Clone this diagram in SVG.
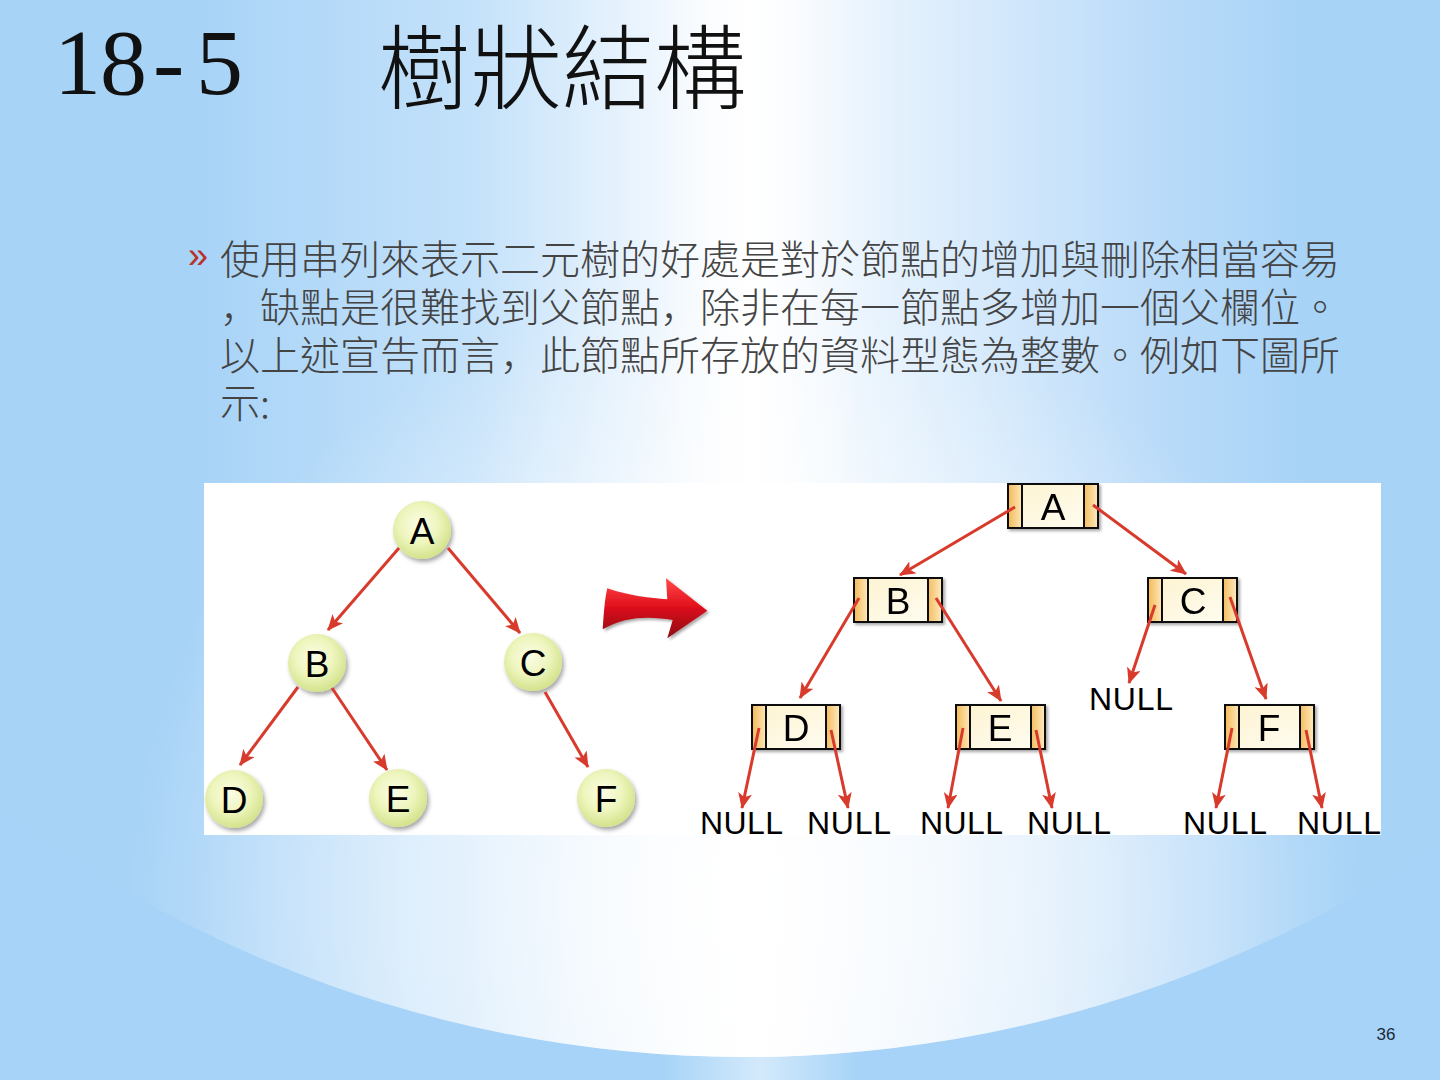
<svg xmlns="http://www.w3.org/2000/svg" width="1440" height="1080" viewBox="0 0 1440 1080">
<defs>
<style>
.ttl{font-family:"Liberation Serif","Noto Sans CJK TC",serif;fill:#111}
.cjk{font-family:"Noto Sans CJK TC",sans-serif;font-weight:300}
.body{font-family:"Noto Sans CJK TC",sans-serif;font-size:40px;fill:#444;font-weight:300}
.cm{font-family:"Noto Sans CJK JP",sans-serif}
.lbl{font-family:"Liberation Sans",Arial,sans-serif;font-size:37px;fill:#000;text-anchor:middle}
.null{font-family:"Liberation Sans",Arial,sans-serif;font-size:32px;fill:#000}
.edge{stroke:#d83a2c;stroke-width:3;fill:none;marker-end:url(#ah)}
.cell{fill:url(#cellG);stroke:#111;stroke-width:2}
.side{fill:url(#sideG)}
.div{stroke:#111;stroke-width:2}
</style>
<linearGradient id="glow" gradientUnits="userSpaceOnUse" x1="190" y1="0" x2="1310" y2="0">
<stop offset="0" stop-color="#a7d3f7"/>
<stop offset="0.25" stop-color="#c3e1fa"/>
<stop offset="0.44" stop-color="#f4f9fe"/>
<stop offset="0.5" stop-color="#ffffff"/>
<stop offset="0.62" stop-color="#e6f2fd"/>
<stop offset="0.85" stop-color="#bcdcf9"/>
<stop offset="1" stop-color="#a7d3f7"/>
</linearGradient>
<radialGradient id="low" gradientUnits="userSpaceOnUse" cx="745" cy="900" r="620">
<stop offset="0" stop-color="#ffffff" stop-opacity="0.9"/>
<stop offset="0.55" stop-color="#ffffff" stop-opacity="0.5"/>
<stop offset="1" stop-color="#ffffff" stop-opacity="0"/>
</radialGradient>
<linearGradient id="band" x1="0" y1="0" x2="1" y2="0">
<stop offset="0" stop-color="#ffffff" stop-opacity="0"/>
<stop offset="0.5" stop-color="#ffffff" stop-opacity="0.85"/>
<stop offset="1" stop-color="#ffffff" stop-opacity="0"/>
</linearGradient>
<radialGradient id="ball" cx="0.45" cy="0.4" r="0.6">
<stop offset="0" stop-color="#fbfde6"/>
<stop offset="0.55" stop-color="#eef5bd"/>
<stop offset="1" stop-color="#d3e38c"/>
</radialGradient>
<linearGradient id="cellG" x1="0" y1="0" x2="1" y2="1">
<stop offset="0" stop-color="#fdf3cf"/>
<stop offset="1" stop-color="#fffdf3"/>
</linearGradient>
<linearGradient id="sideG" x1="0" y1="0" x2="1" y2="0">
<stop offset="0" stop-color="#f4bd5e"/>
<stop offset="1" stop-color="#fde7bb"/>
</linearGradient>
<linearGradient id="redA" x1="0" y1="0" x2="0" y2="1">
<stop offset="0" stop-color="#ff4a4a"/>
<stop offset="0.45" stop-color="#e3121e"/>
<stop offset="1" stop-color="#8a0610"/>
</linearGradient>
<filter id="sh" x="-30%" y="-30%" width="160%" height="160%">
<feDropShadow dx="2" dy="3" stdDeviation="2" flood-color="#000" flood-opacity="0.35"/>
</filter>
<filter id="shb" x="-20%" y="-20%" width="140%" height="140%">
<feDropShadow dx="2" dy="2" stdDeviation="1.5" flood-color="#000" flood-opacity="0.35"/>
</filter>
<marker id="ah" viewBox="0 0 16 14" refX="15" refY="7" markerWidth="16" markerHeight="14" markerUnits="userSpaceOnUse" orient="auto">
<path d="M0,0 L16,7 L0,14 L4,7 z" fill="#d83a2c"/>
</marker>
</defs>

<!-- background -->
<rect width="1440" height="1080" fill="#a6d3f7"/>
<circle cx="745" cy="-180" r="1237" fill="url(#glow)"/>
<circle cx="745" cy="-180" r="1237" fill="url(#low)"/>
<rect x="660" y="0" width="200" height="1080" fill="url(#band)" opacity="0.6"/>

<!-- title -->
<text class="ttl" y="94" font-size="94"><tspan x="54">1</tspan><tspan x="100">8</tspan><tspan x="153">-</tspan><tspan x="196">5</tspan></text>
<text class="ttl cjk" x="378" y="102" font-size="92" fill="#111">樹狀結構</text>

<!-- body text -->
<text x="188" y="268" font-family="Liberation Sans, sans-serif" font-size="36" fill="#b8312a">»</text>
<text class="body" x="220" y="274">使用串列來表示二元樹的好處是對於節點的增加與刪除相當容易</text>
<text class="body" x="220" y="322"><tspan class="cm">，</tspan>缺點是很難找到父節點<tspan class="cm">，</tspan>除非在每一節點多增加一個父欄位。</text>
<text class="body" x="220" y="370">以上述宣告而言<tspan class="cm">，</tspan>此節點所存放的資料型態為整數。例如下圖所</text>
<text class="body" x="220" y="418">示:</text>

<!-- picture panel -->
<rect x="204" y="483" width="1177" height="352" fill="#ffffff"/>

<!-- big red arrow -->
<path d="M602.7,629.3 C604,610 605,598 607.3,588.3 C630,596 650,598 667.3,599.3 L666,578.3 L707.3,610.7 L667.3,638.3 L672.7,620 C650,616 625,616 602.7,629.3 Z" fill="url(#redA)" filter="url(#shb)"/>

<!-- left tree nodes -->
<g id="tA"><circle cx="422" cy="530" r="29" fill="url(#ball)" filter="url(#sh)"/><text class="lbl" x="422" y="544">A</text></g>
<g id="tB"><circle cx="317" cy="663" r="29" fill="url(#ball)" filter="url(#sh)"/><text class="lbl" x="317" y="677">B</text></g>
<g id="tC"><circle cx="533" cy="662" r="29" fill="url(#ball)" filter="url(#sh)"/><text class="lbl" x="533" y="676">C</text></g>
<g id="tD"><circle cx="234" cy="799" r="29" fill="url(#ball)" filter="url(#sh)"/><text class="lbl" x="234" y="813">D</text></g>
<g id="tE"><circle cx="398" cy="798" r="29" fill="url(#ball)" filter="url(#sh)"/><text class="lbl" x="398" y="812">E</text></g>
<g id="tF"><circle cx="606" cy="798" r="29" fill="url(#ball)" filter="url(#sh)"/><text class="lbl" x="606" y="812">F</text></g>

<!-- right tree nodes -->
<g id="lA" filter="url(#shb)">
<rect class="cell" x="1008" y="484" width="90" height="44"/>
<rect class="side" x="1009" y="485" width="13" height="42"/><rect class="side" x="1084" y="485" width="13" height="42"/>
<line class="div" x1="1022" y1="484" x2="1022" y2="528"/><line class="div" x1="1084" y1="484" x2="1084" y2="528"/>
<rect x="1008" y="484" width="90" height="44" fill="none" stroke="#111" stroke-width="2"/>
<text class="lbl" x="1053" y="520">A</text></g>
<g id="lB" filter="url(#shb)">
<rect class="cell" x="854" y="578" width="88" height="44"/>
<rect class="side" x="855" y="579" width="13" height="42"/><rect class="side" x="928" y="579" width="13" height="42"/>
<line class="div" x1="868" y1="578" x2="868" y2="622"/><line class="div" x1="928" y1="578" x2="928" y2="622"/>
<rect x="854" y="578" width="88" height="44" fill="none" stroke="#111" stroke-width="2"/>
<text class="lbl" x="898" y="614">B</text></g>
<g id="lC" filter="url(#shb)">
<rect class="cell" x="1148" y="578" width="89" height="44"/>
<rect class="side" x="1149" y="579" width="13" height="42"/><rect class="side" x="1223" y="579" width="13" height="42"/>
<line class="div" x1="1162" y1="578" x2="1162" y2="622"/><line class="div" x1="1223" y1="578" x2="1223" y2="622"/>
<rect x="1148" y="578" width="89" height="44" fill="none" stroke="#111" stroke-width="2"/>
<text class="lbl" x="1193" y="614">C</text></g>
<g id="lD" filter="url(#shb)">
<rect class="cell" x="752" y="705" width="88" height="44"/>
<rect class="side" x="753" y="706" width="13" height="42"/><rect class="side" x="826" y="706" width="13" height="42"/>
<line class="div" x1="766" y1="705" x2="766" y2="749"/><line class="div" x1="826" y1="705" x2="826" y2="749"/>
<rect x="752" y="705" width="88" height="44" fill="none" stroke="#111" stroke-width="2"/>
<text class="lbl" x="796" y="741">D</text></g>
<g id="lE" filter="url(#shb)">
<rect class="cell" x="956" y="705" width="89" height="44"/>
<rect class="side" x="957" y="706" width="13" height="42"/><rect class="side" x="1031" y="706" width="13" height="42"/>
<line class="div" x1="970" y1="705" x2="970" y2="749"/><line class="div" x1="1031" y1="705" x2="1031" y2="749"/>
<rect x="956" y="705" width="89" height="44" fill="none" stroke="#111" stroke-width="2"/>
<text class="lbl" x="1000" y="741">E</text></g>
<g id="lF" filter="url(#shb)">
<rect class="cell" x="1225" y="705" width="89" height="44"/>
<rect class="side" x="1226" y="706" width="13" height="42"/><rect class="side" x="1300" y="706" width="13" height="42"/>
<line class="div" x1="1239" y1="705" x2="1239" y2="749"/><line class="div" x1="1300" y1="705" x2="1300" y2="749"/>
<rect x="1225" y="705" width="89" height="44" fill="none" stroke="#111" stroke-width="2"/>
<text class="lbl" x="1269" y="741">F</text></g>

<!-- NULL labels -->
<g id="nullC"><text class="null" x="1089" y="710" textLength="84" lengthAdjust="spacing">NULL</text></g>
<g id="null1"><text class="null" x="700" y="834" textLength="83" lengthAdjust="spacing">NULL</text></g>
<g id="null2"><text class="null" x="807" y="834" textLength="84" lengthAdjust="spacing">NULL</text></g>
<g id="null3"><text class="null" x="920" y="834" textLength="83" lengthAdjust="spacing">NULL</text></g>
<g id="null4"><text class="null" x="1027" y="834" textLength="84" lengthAdjust="spacing">NULL</text></g>
<g id="null5"><text class="null" x="1183" y="834" textLength="84" lengthAdjust="spacing">NULL</text></g>
<g id="null6"><text class="null" x="1297" y="834" textLength="84" lengthAdjust="spacing">NULL</text></g>

<!-- connectors -->
<g id="connectors">
<line class="edge" x1="399" y1="548" x2="328" y2="630"/>
<line class="edge" x1="448" y1="548" x2="520" y2="633"/>
<line class="edge" x1="298" y1="687" x2="240" y2="765"/>
<line class="edge" x1="332" y1="688" x2="387" y2="770"/>
<line class="edge" x1="545" y1="692" x2="588" y2="767"/>

<line class="edge" x1="1015" y1="507" x2="900" y2="575"/>
<line class="edge" x1="1093" y1="505" x2="1186" y2="574"/>
<line class="edge" x1="859" y1="598" x2="800" y2="698"/>
<line class="edge" x1="936" y1="598" x2="1001" y2="701"/>
<line class="edge" x1="1155" y1="605" x2="1129" y2="683"/>
<line class="edge" x1="1230" y1="597" x2="1266" y2="699"/>
<line class="edge" x1="759" y1="728" x2="742" y2="808"/>
<line class="edge" x1="831" y1="730" x2="848" y2="808"/>
<line class="edge" x1="963" y1="728" x2="948" y2="808"/>
<line class="edge" x1="1036" y1="730" x2="1052" y2="808"/>
<line class="edge" x1="1232" y1="728" x2="1216" y2="808"/>
<line class="edge" x1="1306" y1="730" x2="1322" y2="808"/>
</g>

<!-- page number -->
<text x="1386" y="1040" font-family="Liberation Sans, Arial, sans-serif" font-size="17" fill="#1a2a3a" text-anchor="middle">36</text>
</svg>
